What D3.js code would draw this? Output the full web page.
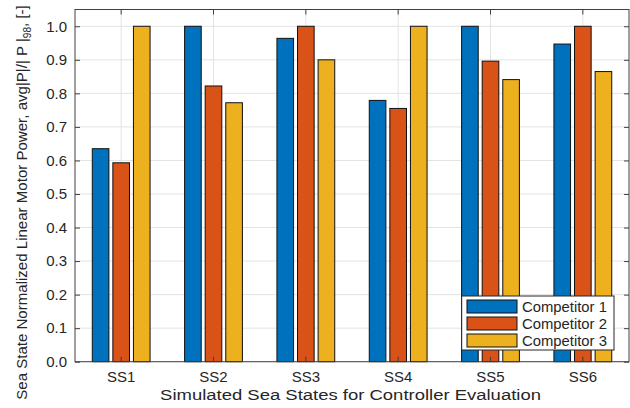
<!DOCTYPE html>
<html><head><meta charset="utf-8">
<script src="https://cdn.jsdelivr.net/npm/d3@7"></script>
<style>body{margin:0;background:#fff}svg{display:block}text{font-family:"Liberation Sans",Arial,sans-serif;fill:#262626}</style>
</head><body>
<svg id="c" width="630" height="408"></svg>
<script>
const categories = ["SS1","SS2","SS3","SS4","SS5","SS6"];
const seriesNames = ["Competitor 1","Competitor 2","Competitor 3"];
const competitor1 = [0.635, 1.0, 0.964, 0.779, 1.0, 0.947];
const competitor2 = [0.593, 0.822, 1.0, 0.755, 0.896, 1.0];
const competitor3 = [1.0, 0.772, 0.9, 1.0, 0.841, 0.865];
const yTicks = [0,0.1,0.2,0.3,0.4,0.5,0.6,0.7,0.8,0.9,1.0];
const colors = ["#0072BD","#D95319","#EDB120"];
const series = [competitor1, competitor2, competitor3];

const svg = d3.select("#c");
const L = 75, R = 629, T = 9.5, B = 361.7;
const x = d3.scaleLinear().domain([0.5, 6.5]).range([L, R]);
const y = d3.scaleLinear().domain([0, 1.05]).range([B, T]);
const catW = x(2) - x(1);

// grid
const g = svg.append("g");
g.selectAll(".gy").data(yTicks).join("line")
  .attr("x1", L).attr("x2", R).attr("y1", d => y(d)).attr("y2", d => y(d))
  .attr("stroke", "#e3e3e3").attr("stroke-width", 1);
g.selectAll(".gx").data(categories).join("line")
  .attr("x1", (d,i) => x(i+1)).attr("x2", (d,i) => x(i+1)).attr("y1", T).attr("y2", B)
  .attr("stroke", "#e3e3e3").attr("stroke-width", 1);

// bars
const barW = catW * 0.18, step = catW * 0.223;
series.forEach((s, k) => {
  svg.append("g").selectAll("rect").data(s).join("rect")
    .attr("x", (d,i) => x(i+1) + (k-1)*step - barW/2)
    .attr("y", d => y(d))
    .attr("width", barW)
    .attr("height", d => B - y(d))
    .attr("fill", colors[k])
    .attr("stroke", "#111").attr("stroke-width", 1);
});

// axes box
const axisColor = "#404040";
svg.append("rect").attr("x", L).attr("y", T).attr("width", R-L).attr("height", B-T)
  .attr("fill", "none").attr("stroke", axisColor).attr("stroke-width", 1);

// y ticks
const yAxisG = svg.append("g").attr("transform", `translate(${L},0)`)
  .call(d3.axisLeft(y).tickValues(yTicks).tickFormat(d3.format(".1f")).tickSize(-5).tickPadding(8));
yAxisG.select(".domain").remove();
yAxisG.selectAll("line").attr("stroke", axisColor);
yAxisG.selectAll("text").style("font-size","15px").attr("fill","#262626").attr("font-family","Liberation Sans, Arial, sans-serif");
const yAxisR = svg.append("g").attr("transform", `translate(${R},0)`)
  .call(d3.axisRight(y).tickValues(yTicks).tickSize(-5).tickFormat(""));
yAxisR.select(".domain").remove();
yAxisR.selectAll("line").attr("stroke", axisColor);

// x ticks
const xb = d3.scaleBand().domain(categories).range([x(0.5), x(6.5)]);
const xAxisG = svg.append("g").attr("transform", `translate(0,${B})`)
  .call(d3.axisBottom(xb).tickSize(-5).tickPadding(10));
xAxisG.select(".domain").remove();
xAxisG.selectAll("line").attr("stroke", axisColor);
xAxisG.selectAll("text").style("font-size","15px").attr("fill","#262626").attr("font-family","Liberation Sans, Arial, sans-serif");
const xAxisT = svg.append("g").attr("transform", `translate(0,${T})`)
  .call(d3.axisTop(xb).tickSize(-5).tickFormat(""));
xAxisT.select(".domain").remove();
xAxisT.selectAll("line").attr("stroke", axisColor);

// fit helper
function fitX(sel, targetW, cx, baseY) {
  const w = sel.node().getComputedTextLength();
  const s = targetW / w;
  sel.attr("transform", `translate(${cx},${baseY}) scale(${s},1)`);
}

// x title
const xt = svg.append("text").attr("text-anchor","middle").style("font-size","15.5px")
  .text("Simulated Sea States for Controller Evaluation");
fitX(xt, 381, 350.5, 400);

// y title
const yt = svg.append("text").attr("text-anchor","middle").style("font-size","15px");
yt.append("tspan").text("Sea State Normalized Linear Motor Power, avg|P|/| P |");
yt.append("tspan").attr("dy", 4).style("font-size","10px").text("98");
yt.append("tspan").attr("dy", -4).text(", [-]");
{
  const w = yt.node().getComputedTextLength();
  const s = 395 / w;
  yt.attr("transform", `translate(27,202.5) rotate(-90) scale(${s},1)`);
}

// legend
const lg = svg.append("g");
lg.append("rect").attr("x", 461.7).attr("y", 296).attr("width", 152.3).attr("height", 54)
  .attr("fill", "#fff").attr("stroke", "#262626").attr("stroke-width", 1);
seriesNames.forEach((n, k) => {
  const cy = 306.5 + k*17;
  lg.append("rect").attr("x", 467).attr("y", cy-6.5).attr("width", 50).attr("height", 13)
    .attr("fill", colors[k]).attr("stroke", "#111").attr("stroke-width", 1);
  const t = lg.append("text").attr("x", 0).attr("y", 0).style("font-size","14.5px").text(n);
  fitX(t, 85, 522, cy+5);
});
</script>
</body></html>
